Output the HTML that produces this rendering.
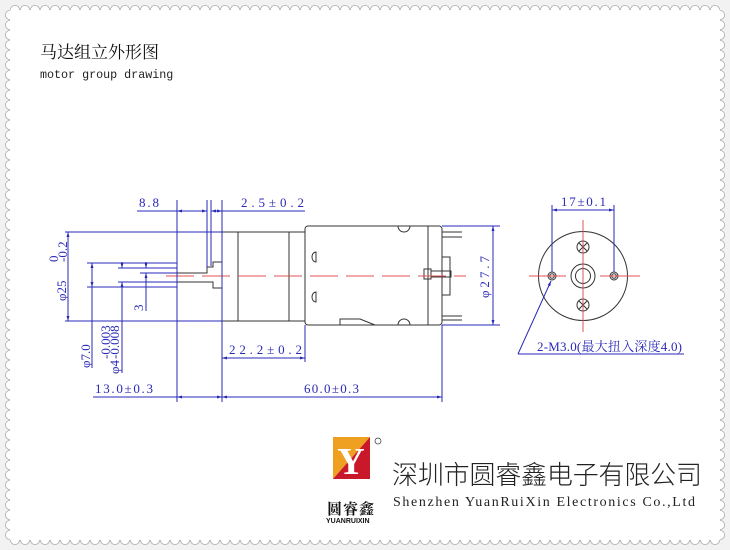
<!DOCTYPE html>
<html><head><meta charset="utf-8"><style>
html,body{margin:0;padding:0;background:#f2f2f2}
svg{display:block}
.b{stroke:#2a2ab8;stroke-width:1;fill:none}
.k{stroke:#333;stroke-width:1;fill:none}
.r{stroke:#e05050;stroke-width:1;fill:none}
.t{font-family:"Liberation Serif","Noto Serif CJK SC",serif;fill:#2a2ab8;font-size:13px}
</style></head><body>
<svg width="730" height="550" viewBox="0 0 730 550" xmlns="http://www.w3.org/2000/svg">
<defs>
<marker id="a" viewBox="0 0 10 10" refX="10" refY="5" markerWidth="7" markerHeight="5" orient="auto-start-reverse"><path d="M0,2 L10,5 L0,8z" fill="#2a2ab8"/></marker>
<pattern id="ph" x="10" y="5" width="10" height="10" patternUnits="userSpaceOnUse"><circle cx="5" cy="5" r="4.6" fill="#fff" stroke="#aaa" stroke-width="0.8"/></pattern>
<pattern id="pv" x="5" y="10" width="10" height="10" patternUnits="userSpaceOnUse"><circle cx="5" cy="5" r="4.6" fill="#fff" stroke="#aaa" stroke-width="0.8"/></pattern>
</defs>
<rect width="730" height="550" fill="#f2f2f2"/>
<rect x="10" y="5" width="710" height="10" fill="url(#ph)"/>
<rect x="10" y="535" width="710" height="10" fill="url(#ph)"/>
<rect x="5" y="10" width="10" height="530" fill="url(#pv)"/>
<rect x="715" y="10" width="10" height="530" fill="url(#pv)"/>
<rect x="10" y="10" width="710" height="530" fill="#fff"/>
<text x="40" y="58" font-family="'Liberation Serif','Noto Serif CJK SC',serif" font-size="17" fill="#111">马达组立外形图</text>
<text x="40" y="78" font-family="'Liberation Mono',monospace" font-size="11.7" fill="#222">motor group drawing</text>

<!-- motor side view -->
<rect x="222" y="232" width="83" height="89" class="k"/>
<line x1="238" y1="232" x2="238" y2="321" class="k"/>
<line x1="289" y1="232" x2="289" y2="321" class="k"/>
<rect x="305" y="226" width="137" height="99" rx="3" class="k"/>
<line x1="428" y1="226" x2="428" y2="325" class="k"/>
<path d="M398,226 a5,5 0 0 0 12,0 M398,325 a5,5 0 0 1 12,0 M316,252 a4,5 0 0 0 0,10 z M316,292 a4,5 0 0 0 0,10 z M340,325 v-6 h20 l15,6" class="k"/>
<path d="M442,232 h20 M442,237 h20 M442,316 h20 M442,320 h20 M442,257 h8 v38 h-8 M424,269 h7 v10 h-7z M431,271 h20 v6 h-20" class="k"/>
<path d="M177,273 h30 v-6 h6 v-5 h9 v26 h-9 v-6 h-36 z" class="k"/>
<line x1="166" y1="276" x2="466" y2="276" class="r" stroke-dasharray="28,8"/>

<!-- dims -->
<g class="b">
<line x1="137" y1="211" x2="177" y2="211"/>
<line x1="177" y1="211" x2="207" y2="211" marker-start="url(#a)" marker-end="url(#a)"/>
<line x1="211" y1="211" x2="222" y2="211" marker-start="url(#a)" marker-end="url(#a)"/>
<line x1="222" y1="211" x2="305" y2="211"/>
<line x1="177" y1="200" x2="177" y2="402"/>
<line x1="207" y1="200" x2="207" y2="268"/>
<line x1="211" y1="200" x2="211" y2="266"/>
<line x1="222" y1="200" x2="222" y2="402"/>
<line x1="65" y1="232" x2="222" y2="232"/>
<line x1="65" y1="321" x2="222" y2="321"/>
<line x1="68" y1="232" x2="68" y2="321" marker-start="url(#a)" marker-end="url(#a)"/>
<line x1="87" y1="263" x2="177" y2="263"/>
<line x1="87" y1="287" x2="177" y2="287"/>
<line x1="118" y1="268" x2="177" y2="268"/>
<line x1="118" y1="282" x2="177" y2="282"/>
<line x1="140" y1="273" x2="177" y2="273"/>
<line x1="92" y1="263" x2="92" y2="287" marker-start="url(#a)" marker-end="url(#a)"/>
<line x1="92" y1="287" x2="92" y2="368"/>
<line x1="122" y1="262" x2="122" y2="268" marker-end="url(#a)"/>
<line x1="122" y1="282" x2="122" y2="373" marker-start="url(#a)"/>
<line x1="146" y1="262" x2="146" y2="268" marker-end="url(#a)"/>
<line x1="146" y1="273" x2="146" y2="311" marker-start="url(#a)"/>
<line x1="442" y1="226" x2="500" y2="226"/>
<line x1="442" y1="325" x2="500" y2="325"/>
<line x1="493" y1="226" x2="493" y2="325" marker-start="url(#a)" marker-end="url(#a)"/>
<line x1="305" y1="325" x2="305" y2="362"/>
<line x1="222" y1="358" x2="305" y2="358" marker-start="url(#a)" marker-end="url(#a)"/>
<line x1="442" y1="325" x2="442" y2="402"/>
<line x1="93" y1="397" x2="177" y2="397"/>
<line x1="177" y1="397" x2="222" y2="397" marker-start="url(#a)" marker-end="url(#a)"/>
<line x1="222" y1="397" x2="442" y2="397" marker-start="url(#a)" marker-end="url(#a)"/>
</g>
<text class="t" x="139" y="207" textLength="20">8.8</text>
<text class="t" x="241" y="207" textLength="63">2.5±0.2</text>
<text class="t" x="229" y="354" textLength="73">22.2±0.2</text>
<text class="t" x="95" y="393" textLength="58">13.0±0.3</text>
<text class="t" x="304" y="393" textLength="55">60.0±0.3</text>
<text class="t" transform="translate(66,301) rotate(-90)" font-size="14">φ25</text>
<text class="t" transform="translate(58,262) rotate(-90)" font-size="10">0</text>
<text class="t" transform="translate(67,262) rotate(-90)" font-size="10">-0.2</text>
<text class="t" transform="translate(90,368) rotate(-90)" font-size="15">φ7.0</text>
<text class="t" transform="translate(119,374) rotate(-90)" font-size="11">φ4</text>
<text class="t" transform="translate(110,359) rotate(-90)" font-size="8">-0.003</text>
<text class="t" transform="translate(119,359) rotate(-90)" font-size="8">-0.008</text>
<text class="t" transform="translate(143,311) rotate(-90)">3</text>
<text class="t" transform="translate(489,298) rotate(-90)" textLength="42">φ27.7</text>

<!-- end view -->
<g class="k">
<circle cx="583" cy="276" r="44.5"/>
<circle cx="583" cy="276" r="12"/>
<circle cx="583" cy="276" r="7.5"/>
<circle cx="583" cy="247" r="6"/><path d="M579,243 l8,8 M587,243 l-8,8"/>
<circle cx="583" cy="305" r="6"/><path d="M579,301 l8,8 M587,301 l-8,8"/>
<circle cx="552" cy="276" r="4"/><circle cx="552" cy="276" r="2.3"/>
<circle cx="614" cy="276" r="4"/><circle cx="614" cy="276" r="2.3"/>
</g>
<g class="r">
<line x1="583" y1="220" x2="583" y2="332"/>
<line x1="529" y1="276" x2="566" y2="276"/>
<line x1="600" y1="276" x2="640" y2="276"/>
</g>
<g class="b">
<line x1="552" y1="205" x2="552" y2="272"/>
<line x1="614" y1="205" x2="614" y2="272"/>
<line x1="552" y1="210" x2="614" y2="210" marker-start="url(#a)" marker-end="url(#a)"/>
<line x1="518" y1="354" x2="551" y2="281" marker-end="url(#a)"/>
<line x1="518" y1="354" x2="684" y2="354"/>
</g>
<text class="t" x="561" y="206" font-size="12" textLength="45">17±0.1</text>
<text class="t" x="537" y="351" font-size="12" textLength="145">2-M3.0(最大扭入深度4.0)</text>

<!-- logo -->
<polygon points="333,437 370,437 333,479" fill="#f0a020"/>
<polygon points="370,437 370,479 333,479" fill="#c8182a"/>
<text x="351" y="474" text-anchor="middle" font-family="'Liberation Serif',serif" font-weight="bold" font-size="38" fill="#fff">Y</text>
<circle cx="378" cy="441" r="3" fill="none" stroke="#333" stroke-width="0.7"/>
<text x="327" y="514" font-family="'Noto Serif CJK SC',serif" font-size="15" font-weight="bold" fill="#111" letter-spacing="1">圆睿鑫</text>
<text x="326" y="523" font-family="'Liberation Sans',sans-serif" font-size="7" font-weight="bold" fill="#111">YUANRUIXIN</text>
<text x="392" y="484" font-family="'Noto Sans CJK SC',sans-serif" font-weight="300" font-size="26" fill="#222" textLength="310" lengthAdjust="spacing">深圳市圆睿鑫电子有限公司</text>
<text x="393" y="506" font-family="'Liberation Serif',serif" font-size="14" fill="#222" textLength="302">Shenzhen YuanRuiXin Electronics Co.,Ltd</text>
</svg>
</body></html>
